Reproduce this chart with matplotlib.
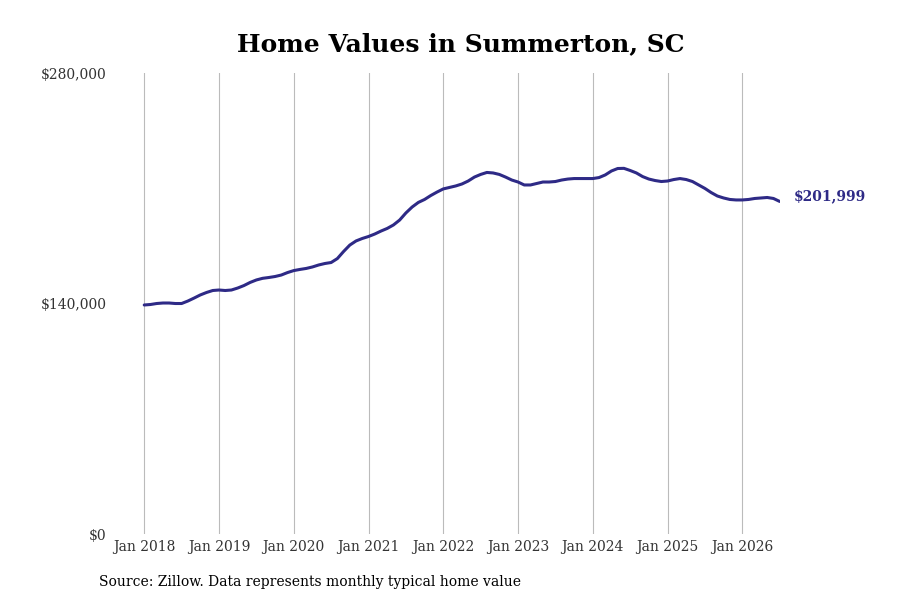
import matplotlib

matplotlib.use("Agg")
from matplotlib import pyplot as plt  # noqa: E402
from matplotlib.ticker import FuncFormatter  # noqa: E402

# monthly typical home value, Jan 2018 .. Jul 2026
values = [
    139100, 139400, 140000, 140300, 140300, 140000, 140000, 141500, 143300, 145200, 146700, 147900,
    148200, 147900, 148200, 149400, 150900, 152800, 154300, 155300, 155800, 156400, 157300, 158800,
    160000, 160700, 161300, 162200, 163400, 164300, 164900, 167300, 171600, 175500, 178000, 179500,
    180700, 182200, 184000, 185600, 187700, 190700, 195000, 198600, 201400, 203200, 205600, 207700,
    209600, 210500, 211400, 212600, 214400, 216800, 218400, 219600, 219300, 218400, 216800, 215000,
    213800, 212000, 212000, 212900, 213800, 213800, 214100, 215000, 215600, 215900, 215900, 215900,
    215900, 216500, 218100, 220500, 222000, 222100, 220800, 219300, 217100, 215600, 214700, 214100,
    214400, 215300, 215900, 215300, 214100, 212000, 209900, 207400, 205300, 204100, 203200, 202900,
    202900, 203200, 203800, 204100, 204400, 203800, 201999,
]
years = list(range(2018, 2027))
tick_labels = [f"Jan {y}" for y in years]
y_ticks = [0, 140000, 280000]

title = "Home Values in Summerton, SC"
source = "Source: Zillow. Data represents monthly typical home value"

line_color = "#2e2a86"
plt.rcParams["font.family"] = ["DejaVu Serif"]

fig = plt.figure(figsize=(9, 6), dpi=100)
ax = fig.add_axes([0.128, 0.11, 0.739, 0.7683])

months = list(range(len(values)))
ax.plot(months, values, color=line_color, lw=2.2, solid_capstyle="round")

ax.set_xlim(-4.66, 102.1)
ax.set_ylim(0, 280000)
ax.set_xticks([12 * i for i in range(len(years))])
ax.set_xticklabels(tick_labels)
ax.set_yticks(y_ticks)
ax.yaxis.set_major_formatter(FuncFormatter(lambda v, _: f"${v:,.0f}"))
ax.tick_params(axis="both", length=0, labelsize=10, colors="#333333")
ax.tick_params(axis="x", pad=4)
ax.tick_params(axis="y", pad=6)
ax.grid(axis="x", color="#bbbbbb", lw=0.8)
ax.grid(axis="y", visible=False)
for spine in ax.spines.values():
    spine.set_visible(False)

ax.annotate(
    f"${values[-1]:,}",
    xy=(months[-1], values[-1]),
    xytext=(10, 4),
    textcoords="offset points",
    va="center",
    ha="left",
    fontsize=10,
    fontweight="bold",
    color=line_color,
    annotation_clip=False,
)

fig.text(0.512, 0.927, title, ha="center", va="center", fontsize=18, fontweight="bold")
fig.text(0.11, 0.03, source, ha="left", va="center", fontsize=10)

fig.savefig("out.png", dpi=100)
